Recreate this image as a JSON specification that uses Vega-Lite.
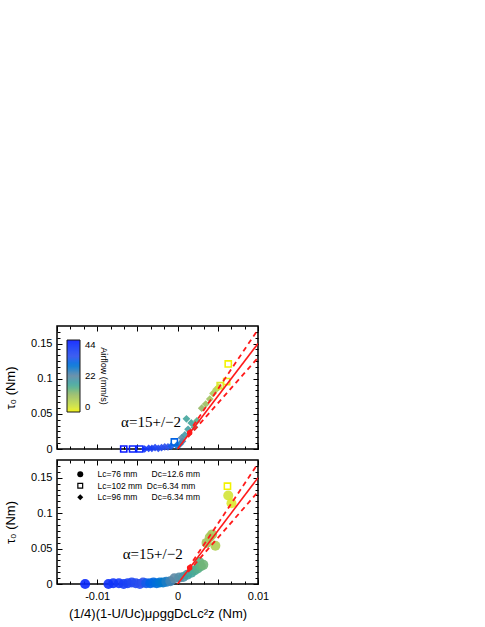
{
  "$schema": "https://vega.github.io/schema/vega-lite/v6.json",
  "padding": {"left": 3, "top": 324, "right": 5, "bottom": 5},
  "autosize": {"type": "pad"},
  "config": {
    "font": "Liberation Sans",
    "view": {"stroke": "black", "strokeWidth": 1.5},
    "axis": {"domain": false, "grid": false, "tickColor": "black", "tickWidth": 1, "labelFontSize": 11, "labelColor": "black", "titleFontSize": 13, "titleFontWeight": "normal", "titleColor": "black", "labelFlush": false},
    "legend": {"labelColor": "black", "titleColor": "black"}
  },
  "datasets": {
    "pts": [
      {"panel": "top", "sample": "B", "x": -0.0067, "y": 0, "airflow": 44},
      {"panel": "top", "sample": "B", "x": -0.0056, "y": 0, "airflow": 43},
      {"panel": "top", "sample": "B", "x": -0.0047, "y": 0, "airflow": 42},
      {"panel": "top", "sample": "C", "x": -0.0041, "y": 0.0, "airflow": 40},
      {"panel": "top", "sample": "C", "x": -0.0036, "y": 0.001, "airflow": 39},
      {"panel": "top", "sample": "C", "x": -0.0032, "y": 0.001, "airflow": 38},
      {"panel": "top", "sample": "C", "x": -0.0028, "y": 0.002, "airflow": 37},
      {"panel": "top", "sample": "C", "x": -0.0024, "y": 0.001, "airflow": 36},
      {"panel": "top", "sample": "C", "x": -0.002, "y": 0.002, "airflow": 35},
      {"panel": "top", "sample": "C", "x": -0.0016, "y": 0.003, "airflow": 34},
      {"panel": "top", "sample": "C", "x": -0.0012, "y": 0.003, "airflow": 33},
      {"panel": "top", "sample": "C", "x": -0.0008, "y": 0.004, "airflow": 32},
      {"panel": "top", "sample": "B", "x": -0.0004, "y": 0.01, "airflow": 31},
      {"panel": "top", "sample": "C", "x": -0.0001, "y": 0.005, "airflow": 28},
      {"panel": "top", "sample": "C", "x": 0.0003, "y": 0.007, "airflow": 26},
      {"panel": "top", "sample": "C", "x": 0.0006, "y": 0.011, "airflow": 24},
      {"panel": "top", "sample": "C", "x": 0.0005, "y": 0.016, "airflow": 22},
      {"panel": "top", "sample": "C", "x": 0.0009, "y": 0.02, "airflow": 19},
      {"panel": "top", "sample": "C", "x": 0.0013, "y": 0.028, "airflow": 18},
      {"panel": "top", "sample": "C", "x": 0.0011, "y": 0.043, "airflow": 17},
      {"panel": "top", "sample": "C", "x": 0.0017, "y": 0.037, "airflow": 17},
      {"panel": "top", "sample": "C", "x": 0.0021, "y": 0.031, "airflow": 16},
      {"panel": "top", "sample": "C", "x": 0.0024, "y": 0.04, "airflow": 15},
      {"panel": "top", "sample": "C", "x": 0.003, "y": 0.058, "airflow": 11},
      {"panel": "top", "sample": "C", "x": 0.0035, "y": 0.064, "airflow": 10},
      {"panel": "top", "sample": "C", "x": 0.004, "y": 0.071, "airflow": 9},
      {"panel": "top", "sample": "C", "x": 0.0044, "y": 0.079, "airflow": 8},
      {"panel": "top", "sample": "C", "x": 0.0048, "y": 0.085, "airflow": 7},
      {"panel": "top", "sample": "C", "x": 0.0051, "y": 0.088, "airflow": 4},
      {"panel": "top", "sample": "B", "x": 0.0053, "y": 0.09, "airflow": 2},
      {"panel": "top", "sample": "B", "x": 0.0061, "y": 0.096, "airflow": 1},
      {"panel": "top", "sample": "B", "x": 0.0063, "y": 0.121, "airflow": 0},
      {"panel": "bottom", "sample": "A", "x": -0.0115, "y": 0, "airflow": 42},
      {"panel": "bottom", "sample": "A", "x": -0.0086, "y": 0, "airflow": 41},
      {"panel": "bottom", "sample": "A", "x": -0.008, "y": 0.001, "airflow": 40},
      {"panel": "bottom", "sample": "A", "x": -0.0073, "y": 0.001, "airflow": 39},
      {"panel": "bottom", "sample": "A", "x": -0.0067, "y": 0, "airflow": 38},
      {"panel": "bottom", "sample": "A", "x": -0.0062, "y": 0.001, "airflow": 37},
      {"panel": "bottom", "sample": "A", "x": -0.0057, "y": 0.002, "airflow": 36},
      {"panel": "bottom", "sample": "A", "x": -0.0052, "y": 0.001, "airflow": 35},
      {"panel": "bottom", "sample": "A", "x": -0.0047, "y": 0, "airflow": 34},
      {"panel": "bottom", "sample": "A", "x": -0.0043, "y": 0.002, "airflow": 33},
      {"panel": "bottom", "sample": "A", "x": -0.0039, "y": 0.001, "airflow": 32},
      {"panel": "bottom", "sample": "A", "x": -0.0034, "y": 0.001, "airflow": 31},
      {"panel": "bottom", "sample": "A", "x": -0.003, "y": 0.002, "airflow": 30},
      {"panel": "bottom", "sample": "A", "x": -0.0026, "y": 0.001, "airflow": 29},
      {"panel": "bottom", "sample": "A", "x": -0.0022, "y": 0.002, "airflow": 28},
      {"panel": "bottom", "sample": "A", "x": -0.0018, "y": 0.002, "airflow": 27},
      {"panel": "bottom", "sample": "A", "x": -0.0014, "y": 0.003, "airflow": 26},
      {"panel": "bottom", "sample": "A", "x": -0.0009, "y": 0.004, "airflow": 24},
      {"panel": "bottom", "sample": "A", "x": -0.0004, "y": 0.008, "airflow": 22},
      {"panel": "bottom", "sample": "A", "x": 0.0002, "y": 0.009, "airflow": 21},
      {"panel": "bottom", "sample": "A", "x": 0.0007, "y": 0.01, "airflow": 20},
      {"panel": "bottom", "sample": "A", "x": 0.0012, "y": 0.013, "airflow": 18},
      {"panel": "bottom", "sample": "A", "x": 0.0017, "y": 0.016, "airflow": 17},
      {"panel": "bottom", "sample": "A", "x": 0.0021, "y": 0.019, "airflow": 16},
      {"panel": "bottom", "sample": "A", "x": 0.0025, "y": 0.022, "airflow": 15},
      {"panel": "bottom", "sample": "A", "x": 0.0029, "y": 0.025, "airflow": 14},
      {"panel": "bottom", "sample": "A", "x": 0.0027, "y": 0.031, "airflow": 14},
      {"panel": "bottom", "sample": "A", "x": 0.0032, "y": 0.027, "airflow": 13},
      {"panel": "bottom", "sample": "A", "x": 0.0036, "y": 0.058, "airflow": 9},
      {"panel": "bottom", "sample": "A", "x": 0.004, "y": 0.066, "airflow": 8},
      {"panel": "bottom", "sample": "A", "x": 0.0043, "y": 0.07, "airflow": 8},
      {"panel": "bottom", "sample": "A", "x": 0.0047, "y": 0.054, "airflow": 7},
      {"panel": "bottom", "sample": "A", "x": 0.0063, "y": 0.125, "airflow": 3},
      {"panel": "bottom", "sample": "A", "x": 0.0067, "y": 0.114, "airflow": 2},
      {"panel": "bottom", "sample": "B", "x": 0.0062, "y": 0.138, "airflow": 0}
    ],
    "fits": [
      {"fit": "mid", "x": 0, "y": 0},
      {"fit": "mid", "x": 0.01, "y": 0.15},
      {"fit": "hi", "x": 0.0013, "y": 0.0221},
      {"fit": "hi", "x": 0.01, "y": 0.17},
      {"fit": "lo", "x": 0.0013, "y": 0.0169},
      {"fit": "lo", "x": 0.0101, "y": 0.1313}
    ]
  },
  "spacing": 3,
  "resolve": {"scale": {"color": "independent", "shape": "independent"}},
  "vconcat": [
    {
      "width": 201,
      "height": 123,
      "resolve": {"axis": {"x": "independent", "y": "independent"}},
      "layer": [
        {
          "data": {"name": "pts"},
          "transform": [{"filter": "datum.panel === 'top' && datum.sample !== 'B'"}],
          "mark": {"type": "point", "filled": true, "size": 60, "opacity": 0.9},
          "encoding": {
            "x": {"field": "x", "type": "quantitative", "scale": {"domain": [-0.015, 0.01], "nice": false, "zero": false},
                  "axis": {"orient": "bottom", "values": [-0.015, -0.01, -0.005, 0, 0.005, 0.01], "tickSize": -5, "labels": false, "title": null}},
            "y": {"field": "y", "type": "quantitative", "scale": {"domain": [0, 0.175], "nice": false},
                  "axis": {"orient": "left", "values": [0, 0.05, 0.1, 0.15], "tickSize": -5, "labelPadding": 10, "format": "~g", "title": "τ₀ (Nm)", "titlePadding": 13}},
            "color": {"field": "airflow", "type": "quantitative",
                      "scale": {"domain": [0, 11, 22, 33, 44], "range": ["#f2f200", "#96b866", "#5d88a4", "#2e52ec", "#0a18ff"]},
                      "legend": {"type": "gradient", "orient": "none", "legendX": 10, "legendY": 14, "direction": "vertical", "gradientLength": 72, "gradientThickness": 13, "titleOrient": "right", "title": "Airflow (mm/s)", "values": [0, 22, 44], "labelFontSize": 9.5, "titleFontSize": 9, "titleFontWeight": "normal", "labelOffset": 5, "padding": 0, "gradientStrokeColor": "black", "gradientStrokeWidth": 1, "titlePadding": 3}},
            "shape": {"field": "sample", "type": "nominal", "scale": {"domain": ["A", "B", "C"], "range": ["circle", "M-1,-1H1V1H-1Z M-0.6,-0.6V0.6H0.6V-0.6Z", "diamond"]}, "legend": null}
          }
        },
        {
          "data": {"name": "pts"},
          "transform": [{"filter": "datum.panel === 'top' && datum.sample === 'B'"}],
          "mark": {"type": "point", "filled": true, "size": 60, "opacity": 1},
          "encoding": {
            "x": {"field": "x", "type": "quantitative", "scale": {"domain": [-0.015, 0.01], "nice": false, "zero": false},
                  "axis": {"orient": "bottom", "values": [-0.0133333, -0.0116667, -0.0083333, -0.0066667, -0.0033333, -0.0016667, 0.0016667, 0.0033333, 0.0066667, 0.0083333], "tickSize": -3, "labels": false, "title": null}},
            "y": {"field": "y", "type": "quantitative", "scale": {"domain": [0, 0.175], "nice": false},
                  "axis": {"orient": "left", "values": [0.0083333, 0.0166667, 0.025, 0.0333333, 0.0416667, 0.0583333, 0.0666667, 0.075, 0.0833333, 0.0916667, 0.1083333, 0.1166667, 0.125, 0.1333333, 0.1416667, 0.1583333, 0.1666667], "tickSize": -3, "labels": false, "title": null}},
            "color": {"field": "airflow", "type": "quantitative",
                      "scale": {"domain": [0, 11, 22, 33, 44], "range": ["#f2f200", "#96b866", "#5d88a4", "#2e52ec", "#0a18ff"]},
                      "legend": {"type": "gradient", "orient": "none", "legendX": 10, "legendY": 14, "direction": "vertical", "gradientLength": 72, "gradientThickness": 13, "titleOrient": "right", "title": "Airflow (mm/s)", "values": [0, 22, 44], "labelFontSize": 9.5, "titleFontSize": 9, "titleFontWeight": "normal", "labelOffset": 5, "padding": 0, "gradientStrokeColor": "black", "gradientStrokeWidth": 1, "titlePadding": 3}},
            "shape": {"field": "sample", "type": "nominal", "scale": {"domain": ["A", "B", "C"], "range": ["circle", "M-1,-1H1V1H-1Z M-0.6,-0.6V0.6H0.6V-0.6Z", "diamond"]}, "legend": null}
          }
        },
        {
          "data": {"name": "fits"},
          "transform": [{"filter": "datum.fit === 'mid'"}],
          "mark": {"type": "line", "color": "#ff1a1a", "strokeWidth": 1.6, "clip": true},
          "encoding": {
            "x": {"field": "x", "type": "quantitative", "scale": {"domain": [-0.015, 0.01], "nice": false, "zero": false},
                  "axis": {"orient": "top", "values": [-0.015, -0.01, -0.005, 0, 0.005, 0.01], "tickSize": -5, "labels": false, "title": null}},
            "y": {"field": "y", "type": "quantitative", "scale": {"domain": [0, 0.175], "nice": false},
                  "axis": {"orient": "right", "values": [0, 0.05, 0.1, 0.15], "tickSize": -5, "labels": false, "title": null}}
          }
        },
        {
          "data": {"name": "fits"},
          "transform": [{"filter": "datum.fit !== 'mid'"}],
          "mark": {"type": "line", "color": "#ff1a1a", "strokeWidth": 1.8, "strokeDash": [5, 4], "clip": true},
          "encoding": {
            "x": {"field": "x", "type": "quantitative", "scale": {"domain": [-0.015, 0.01], "nice": false, "zero": false},
                  "axis": {"orient": "top", "values": [-0.0133333, -0.0116667, -0.0083333, -0.0066667, -0.0033333, -0.0016667, 0.0016667, 0.0033333, 0.0066667, 0.0083333], "tickSize": -3, "labels": false, "title": null}},
            "y": {"field": "y", "type": "quantitative", "scale": {"domain": [0, 0.175], "nice": false},
                  "axis": {"orient": "right", "values": [0.0083333, 0.0166667, 0.025, 0.0333333, 0.0416667, 0.0583333, 0.0666667, 0.075, 0.0833333, 0.0916667, 0.1083333, 0.1166667, 0.125, 0.1333333, 0.1416667, 0.1583333, 0.1666667], "tickSize": -3, "labels": false, "title": null}},
            "detail": {"field": "fit"}
          }
        },
        {
          "data": {"values": [{"note": "pivot"}]},
          "mark": {"type": "point", "filled": true, "shape": "circle", "color": "#ff1a1a", "size": 30, "opacity": 1},
          "encoding": {
            "x": {"datum": 0.0015, "type": "quantitative", "scale": {"domain": [-0.015, 0.01], "nice": false, "zero": false}, "axis": null},
            "y": {"datum": 0.023, "type": "quantitative", "scale": {"domain": [0, 0.175], "nice": false}, "axis": null}
          }
        },
        {
          "data": {"values": [{"t": "α=15+/−2"}]},
          "mark": {"type": "text", "font": "Liberation Serif", "fontSize": 15, "align": "center", "baseline": "middle", "color": "black"},
          "encoding": {
            "x": {"datum": -0.0033, "type": "quantitative", "scale": {"domain": [-0.015, 0.01], "nice": false, "zero": false}, "axis": null},
            "y": {"datum": 0.039, "type": "quantitative", "scale": {"domain": [0, 0.175], "nice": false}, "axis": null},
            "text": {"field": "t"}
          }
        }
      ]
    },
    {
      "width": 201,
      "height": 124,
      "resolve": {"axis": {"x": "independent", "y": "independent"}},
      "layer": [
        {
          "data": {"name": "pts"},
          "transform": [{"filter": "datum.panel === 'bottom' && datum.sample !== 'B'"}],
          "mark": {"type": "point", "filled": true, "size": 100, "opacity": 0.9},
          "encoding": {
            "x": {"field": "x", "type": "quantitative", "scale": {"domain": [-0.015, 0.01], "nice": false, "zero": false},
                  "axis": {"orient": "bottom", "values": [-0.015, -0.01, -0.005, 0, 0.005, 0.01], "tickSize": -5, "labelPadding": 11, "labelExpr": "datum.value == -0.01 ? '-0.01' : datum.value == 0 ? '0' : datum.value == 0.01 ? '0.01' : ''", "title": "(1/4)(1-U/Uc)μρggDcLc²z (Nm)", "titlePadding": 6}},
            "y": {"field": "y", "type": "quantitative", "scale": {"domain": [0, 0.175], "nice": false},
                  "axis": {"orient": "left", "values": [0, 0.05, 0.1, 0.15], "tickSize": -5, "labelPadding": 10, "format": "~g", "title": "τ₀ (Nm)", "titlePadding": 13}},
            "color": {"field": "airflow", "type": "quantitative",
                      "scale": {"domain": [0, 11, 22, 33, 44], "range": ["#f2f200", "#96b866", "#5d88a4", "#2e52ec", "#0a18ff"]}, "legend": null},
            "shape": {"field": "sample", "type": "nominal", "scale": {"domain": ["A", "B", "C"], "range": ["circle", "M-1,-1H1V1H-1Z M-0.6,-0.6V0.6H0.6V-0.6Z", "diamond"]},
                      "legend": {"orient": "none", "legendX": 19, "legendY": 10, "title": null, "padding": 0, "labelFontSize": 8.5, "symbolSize": 36, "rowPadding": 2.5, "labelOffset": 13, "symbolFillColor": "black", "symbolStrokeWidth": 0, "symbolOpacity": 1,
                                 "labelExpr": "datum.value === 'A' ? 'Lc=76 mm\u00a0\u00a0\u00a0\u00a0\u00a0\u00a0Dc=12.6 mm' : datum.value === 'B' ? 'Lc=102 mm\u00a0\u00a0Dc=6.34 mm' : 'Lc=96 mm\u00a0\u00a0\u00a0\u00a0\u00a0\u00a0Dc=6.34 mm'"}}
          }
        },
        {
          "data": {"name": "pts"},
          "transform": [{"filter": "datum.panel === 'bottom' && datum.sample === 'B'"}],
          "mark": {"type": "point", "filled": true, "size": 60, "opacity": 1},
          "encoding": {
            "x": {"field": "x", "type": "quantitative", "scale": {"domain": [-0.015, 0.01], "nice": false, "zero": false},
                  "axis": {"orient": "bottom", "values": [-0.0133333, -0.0116667, -0.0083333, -0.0066667, -0.0033333, -0.0016667, 0.0016667, 0.0033333, 0.0066667, 0.0083333], "tickSize": -3, "labels": false, "title": null}},
            "y": {"field": "y", "type": "quantitative", "scale": {"domain": [0, 0.175], "nice": false},
                  "axis": {"orient": "left", "values": [0.0083333, 0.0166667, 0.025, 0.0333333, 0.0416667, 0.0583333, 0.0666667, 0.075, 0.0833333, 0.0916667, 0.1083333, 0.1166667, 0.125, 0.1333333, 0.1416667, 0.1583333, 0.1666667], "tickSize": -3, "labels": false, "title": null}},
            "color": {"field": "airflow", "type": "quantitative",
                      "scale": {"domain": [0, 11, 22, 33, 44], "range": ["#f2f200", "#96b866", "#5d88a4", "#2e52ec", "#0a18ff"]}, "legend": null},
            "shape": {"field": "sample", "type": "nominal", "scale": {"domain": ["A", "B", "C"], "range": ["circle", "M-1,-1H1V1H-1Z M-0.6,-0.6V0.6H0.6V-0.6Z", "diamond"]},
                      "legend": {"orient": "none", "legendX": 19, "legendY": 10, "title": null, "padding": 0, "labelFontSize": 8.5, "symbolSize": 36, "rowPadding": 2.5, "labelOffset": 13, "symbolFillColor": "black", "symbolStrokeWidth": 0, "symbolOpacity": 1,
                                 "labelExpr": "datum.value === 'A' ? 'Lc=76 mm\u00a0\u00a0\u00a0\u00a0\u00a0\u00a0Dc=12.6 mm' : datum.value === 'B' ? 'Lc=102 mm\u00a0\u00a0Dc=6.34 mm' : 'Lc=96 mm\u00a0\u00a0\u00a0\u00a0\u00a0\u00a0Dc=6.34 mm'"}}
          }
        },
        {
          "data": {"name": "fits"},
          "transform": [{"filter": "datum.fit === 'mid'"}],
          "mark": {"type": "line", "color": "#ff1a1a", "strokeWidth": 1.6, "clip": true},
          "encoding": {
            "x": {"field": "x", "type": "quantitative", "scale": {"domain": [-0.015, 0.01], "nice": false, "zero": false},
                  "axis": {"orient": "top", "values": [-0.015, -0.01, -0.005, 0, 0.005, 0.01], "tickSize": -5, "labels": false, "title": null}},
            "y": {"field": "y", "type": "quantitative", "scale": {"domain": [0, 0.175], "nice": false},
                  "axis": {"orient": "right", "values": [0, 0.05, 0.1, 0.15], "tickSize": -5, "labels": false, "title": null}}
          }
        },
        {
          "data": {"name": "fits"},
          "transform": [{"filter": "datum.fit !== 'mid'"}],
          "mark": {"type": "line", "color": "#ff1a1a", "strokeWidth": 1.8, "strokeDash": [5, 4], "clip": true},
          "encoding": {
            "x": {"field": "x", "type": "quantitative", "scale": {"domain": [-0.015, 0.01], "nice": false, "zero": false},
                  "axis": {"orient": "top", "values": [-0.0133333, -0.0116667, -0.0083333, -0.0066667, -0.0033333, -0.0016667, 0.0016667, 0.0033333, 0.0066667, 0.0083333], "tickSize": -3, "labels": false, "title": null}},
            "y": {"field": "y", "type": "quantitative", "scale": {"domain": [0, 0.175], "nice": false},
                  "axis": {"orient": "right", "values": [0.0083333, 0.0166667, 0.025, 0.0333333, 0.0416667, 0.0583333, 0.0666667, 0.075, 0.0833333, 0.0916667, 0.1083333, 0.1166667, 0.125, 0.1333333, 0.1416667, 0.1583333, 0.1666667], "tickSize": -3, "labels": false, "title": null}},
            "detail": {"field": "fit"}
          }
        },
        {
          "data": {"values": [{"note": "pivot"}]},
          "mark": {"type": "point", "filled": true, "shape": "circle", "color": "#ff1a1a", "size": 30, "opacity": 1},
          "encoding": {
            "x": {"datum": 0.0015, "type": "quantitative", "scale": {"domain": [-0.015, 0.01], "nice": false, "zero": false}, "axis": null},
            "y": {"datum": 0.023, "type": "quantitative", "scale": {"domain": [0, 0.175], "nice": false}, "axis": null}
          }
        },
        {
          "data": {"values": [{"t": "α=15+/−2"}]},
          "mark": {"type": "text", "font": "Liberation Serif", "fontSize": 15, "align": "center", "baseline": "middle", "color": "black"},
          "encoding": {
            "x": {"datum": -0.0031, "type": "quantitative", "scale": {"domain": [-0.015, 0.01], "nice": false, "zero": false}, "axis": null},
            "y": {"datum": 0.042, "type": "quantitative", "scale": {"domain": [0, 0.175], "nice": false}, "axis": null},
            "text": {"field": "t"}
          }
        }
      ]
    }
  ]
}
